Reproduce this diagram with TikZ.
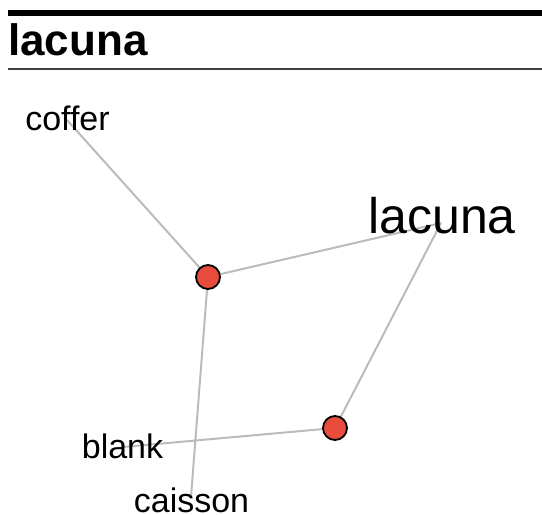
\documentclass[tikz,border=0pt]{standalone}
\usepackage{fontspec}
\setmainfont{Liberation Sans}
\definecolor{dotred}{RGB}{231,76,60}
\definecolor{edgegray}{RGB}{187,187,187}
\tikzset{
  edge/.style={draw=edgegray, line width=2pt},
  dot/.style={circle, draw=black, line width=1.8pt, fill=dotred, minimum size=24pt, inner sep=0pt},
  lbl/.style={anchor=base, inner sep=0pt, font=\fontsize{34}{40}\selectfont},
  biglbl/.style={anchor=base, inner sep=0pt, font=\fontsize{50}{60}\selectfont},
}
\begin{document}
\begin{tikzpicture}[x=1pt,y=-1pt]
\useasboundingbox (0,0) rectangle (542,515);
% header
\fill[black] (8,10) rectangle (542,16);
\node[anchor=base west, inner sep=0pt, font=\fontsize{44}{50}\selectfont\bfseries] (title) at (8,55) {lacuna};
\draw[black!75, line width=1.3pt] (8,69) -- (542,69);
% anchor points
\coordinate (coffer) at (67,120);
\coordinate (lacuna) at (441,223);
\coordinate (blank) at (123,447);
\coordinate (caisson) at (191,497);
\coordinate (n1) at (208,277);
\coordinate (n2) at (335,428);
% edges
\draw[edge] (coffer) -- (n1);
\draw[edge] (n1) -- (lacuna);
\draw[edge] (lacuna) -- (n2);
\draw[edge] (n1) -- (caisson);
\draw[edge] (blank) -- (n2);
% nodes
\node[dot] (d1) at (n1) {};
\node[dot] (d2) at (n2) {};
% labels
\node[lbl] (cofferT) at (67.5,130) {coffer};
\node[biglbl] (lacunaT) at (442,233) {lacuna};
\node[lbl] (blankT) at (122.5,458) {blank};
\node[lbl] (caissonT) at (191.5,512) {caisson};
\end{tikzpicture}
\end{document}
